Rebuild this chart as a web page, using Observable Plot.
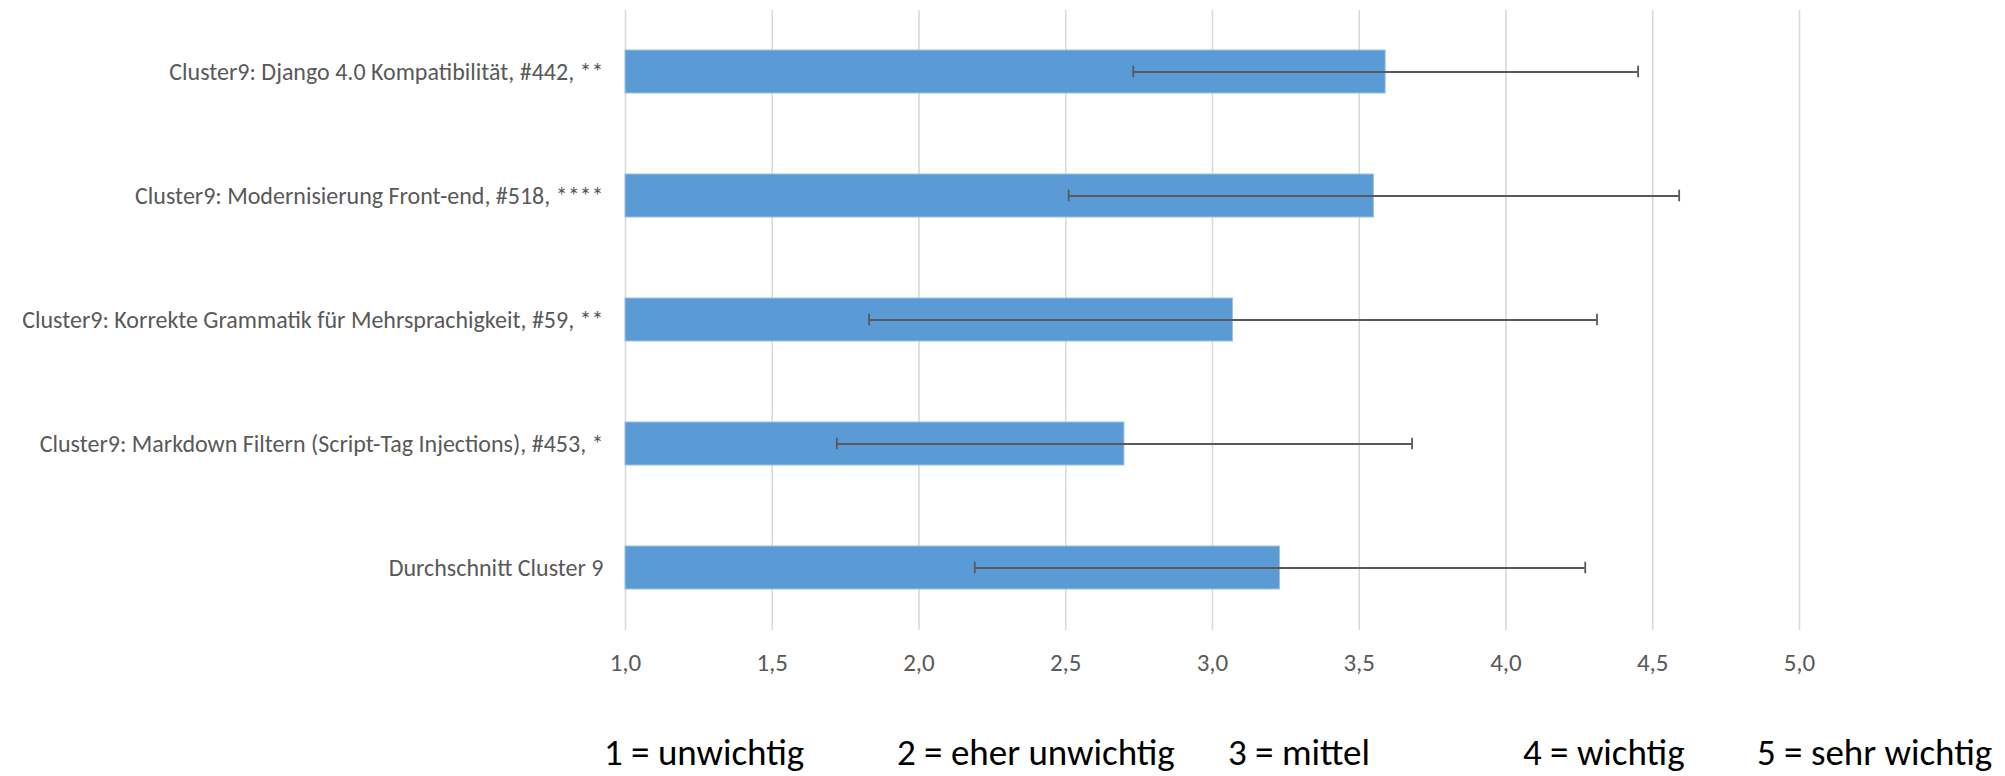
<!DOCTYPE html>
<html>
<head>
<meta charset="utf-8">
<script src="https://cdn.jsdelivr.net/npm/d3@7"></script>
<script src="https://cdn.jsdelivr.net/npm/@observablehq/plot@0.6"></script>
<style>
  html, body { margin: 0; padding: 0; background: #ffffff; }
  #wrap { position: relative; width: 2005px; height: 776px; overflow: hidden; font-family: Carlito, Lato, "Open Sans", sans-serif; }
  #chart { position: absolute; left: 0; top: 0; }
  #legend { position: absolute; left: 0; top: 700px; width: 2005px; height: 76px; }
  #legend span { position: absolute; top: 34px; font-size: 37px; line-height: 1; color: #000000; white-space: nowrap; }
</style>
</head>
<body>
<div id="wrap">
  <div id="chart"></div>
  <div id="legend"></div>
</div>
<script>
// ---- data ----
const categories = [
  "Cluster9: Django 4.0 Kompatibilität, #442, **",
  "Cluster9: Modernisierung Front-end, #518, ****",
  "Cluster9: Korrekte Grammatik für Mehrsprachigkeit, #59, **",
  "Cluster9: Markdown Filtern (Script-Tag Injections), #453, *",
  "Durchschnitt Cluster 9"
];
const means = [3.59, 3.55, 3.07, 2.70, 3.23];
const sds   = [0.86, 1.04, 1.24, 0.98, 1.04];
const xTicks = [1.0, 1.5, 2.0, 2.5, 3.0, 3.5, 4.0, 4.5, 5.0];
const xDomain = [1, 5];
const legendLabels = ["1 = unwichtig", "2 = eher unwichtig", "3 = mittel", "4 = wichtig", "5 = sehr wichtig"];
const legendLeft = [604, 897, 1228, 1523, 1757];

// ---- table ----
const rows = categories.map((c, i) => ({cat: c, mean: means[i], sd: sds[i]}));
const fmt = d => d.toFixed(1).replace(".", ",");
const font = 'Carlito, Lato, "Open Sans", sans-serif';

const chart = Plot.plot({
  width: 2005,
  height: 700,
  marginLeft: 625,
  marginRight: 206,
  marginTop: 10,
  marginBottom: 70,
  x: {domain: xDomain, ticks: xTicks, tickFormat: fmt},
  y: {domain: categories, paddingInner: 0.65, paddingOuter: 0.325, label: null},
  style: {fontFamily: font, fontSize: "24px", color: "#595959", background: "#ffffff"},
  marks: [
    Plot.ruleX(xTicks, {stroke: "#d9d9d9", strokeWidth: 1.6}),
    Plot.barX(rows, {x1: () => xDomain[0], x2: "mean", y: "cat", fill: "#5b9bd5", stroke: "#9cc0e6", strokeWidth: 1}),
    Plot.ruleY(rows, {x1: d => d.mean - d.sd, x2: d => d.mean + d.sd, y: "cat", stroke: "#595959", strokeWidth: 2.2}),
    Plot.tickX(rows, {x: d => d.mean - d.sd, y: "cat", stroke: "#595959", strokeWidth: 1.8, insetTop: 15.7, insetBottom: 15.7}),
    Plot.tickX(rows, {x: d => d.mean + d.sd, y: "cat", stroke: "#595959", strokeWidth: 1.8, insetTop: 15.7, insetBottom: 15.7}),
    Plot.axisX({ticks: xTicks, tickFormat: fmt, tickSize: 0, tickPadding: 23, label: null, fill: "#595959", fontSize: 25}),
    Plot.axisY({tickSize: 0, tickPadding: 22, label: null, fill: "#595959", fontSize: 24})
  ]
});
document.getElementById("chart").appendChild(chart);

const legend = document.getElementById("legend");
legendLabels.forEach((t, i) => {
  const s = document.createElement("span");
  s.textContent = t;
  s.style.left = legendLeft[i] + "px";
  legend.appendChild(s);
});
</script>
</body>
</html>
